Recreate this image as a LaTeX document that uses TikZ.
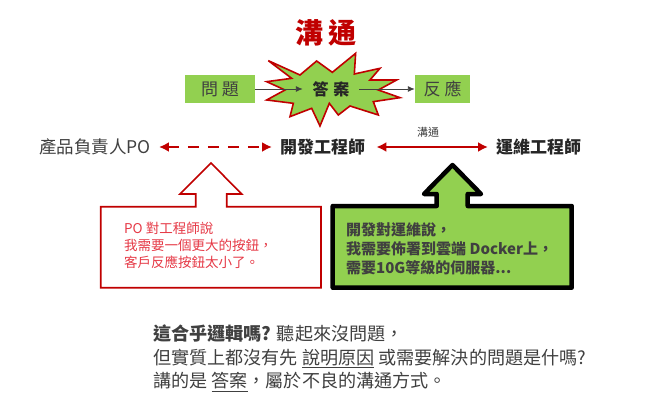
\documentclass[tikz,border=0pt]{standalone}
\usepackage{fontspec}
\setmainfont{Noto Sans CJK TC}
\usetikzlibrary{arrows.meta}
\definecolor{leaf}{HTML}{92D050}
\definecolor{darkred}{HTML}{C00000}
\definecolor{softred}{HTML}{E63946}
\definecolor{ink}{HTML}{404040}
\newcommand{\fs}[2]{\fontsize{#1}{#2}\selectfont}
\tikzset{
  label text/.style={inner sep=0pt,text=ink,anchor=center},
  greenbox/.style={fill=leaf,inner sep=0pt,minimum height=28pt,text=ink},
  thinarrow/.style={draw=ink,line width=0.9pt,-{Latex[length=7pt,width=6pt]}},
  redarrow/.style={draw=darkred,line width=2.4pt,{Latex[length=10pt,width=10pt]}-{Latex[length=10pt,width=10pt]}},
  para/.style={inner sep=0pt,anchor=north west,align=left,text=ink}
}
\begin{document}
\begin{tikzpicture}[x=1pt,y=-1pt]
\useasboundingbox (0,0) rectangle (650,404);
% title
\node[inner sep=0pt,text=darkred] (title) at (326,33) {\fs{28}{28}\bfseries 溝\hspace{6pt}通};
% star
\begin{scope}[shift={(170,0)},x=0.3333pt,y=-0.3333pt]
\draw[fill=leaf,draw=darkred,line width=1.6pt,line join=miter,miter limit=8]
 (295,182)--(390,225)--(440,183)--(487,217)--(557,160)--(553,222)--(630,205)--(600,240)--(680,240)--(625,270)--(690,293)--(610,305)--(625,345)--(540,318)--(505,345)--(478,310)--(450,378)--(425,325)--(360,350)--(370,310)--(290,300)--(345,270)--(290,245)--(365,235)--cycle;
\end{scope}
% top row
\node[greenbox,minimum width=70pt] (q) at (220,89) {\fs{17}{17}問\hspace{4pt}題};
\node[greenbox,minimum width=55pt] (r) at (442.5,89) {\fs{17}{17}反\hspace{4pt}應};
\node[inner sep=0pt,text=black!85,minimum width=56pt] (a) at (331,89) {\fs{16}{16}\bfseries 答\hspace{5pt}案};
\draw[thinarrow] (q.east) -- (a.west);
\draw[thinarrow] (a.east) -- (r.west);
% middle row
\node[label text,anchor=west] (po) at (39,147) {\fs{17.5}{18}產品負責人PO};
\node[label text,anchor=west,text=black!85] (dev) at (280,147) {\fs{17}{17}\bfseries 開發工程師};
\node[label text,anchor=west,text=black!85] (ops) at (496,147) {\fs{17}{17}\bfseries 運維工程師};
\node[label text] (talk) at (428,132) {\fs{11}{11}溝通};
\draw[redarrow,dashed,dash pattern=on 11pt off 9pt] ([xshift=8pt]po.east) -- ([xshift=-8pt]dev.west);
\draw[redarrow] ([xshift=11pt]dev.east) -- ([xshift=-8pt]ops.west);
% red callout
\draw[draw=darkred,line width=1.6pt,fill=white,line join=miter]
 (100.7,206.7)--(195.7,206.7)--(195.7,194)--(180,194)--(211,163)--(241.7,194)--(226.7,194)--(226.7,206.7)--(321,206.7)--(321,287.7)--(100.7,287.7)--cycle;
\node[para,text=softred,font=\fs{13.5}{17}] (potext) at (124,222) {PO 對工程師說\\我需要一個更大的按鈕，\\客戶反應按鈕太小了。};
% green callout
\draw[draw=black,line width=4.5pt,fill=leaf,line join=round]
 (332.7,206)--(436.7,206)--(436.7,194)--(424,194)--(452.5,165)--(481,194)--(467.7,194)--(467.7,206)--(571.7,206)--(571.7,287.7)--(332.7,287.7)--cycle;
\node[para,font=\fs{15}{19}\bfseries] (devtext) at (346,222) {開發對運維說，\\我需要佈署到雲端 Docker上，\\需要10G等級的伺服器...};
% bottom paragraph
\node[para,font=\fs{18.1}{23.5}] (summary) at (153,325) {{\bfseries 這合乎邏輯嗎?} 聽起來沒問題，\\但實質上都沒有先 \underline{說明原因} 或需要解決的問題是什嗎?\\講的是 \underline{答案}，屬於不良的溝通方式。};
\end{tikzpicture}
\end{document}
